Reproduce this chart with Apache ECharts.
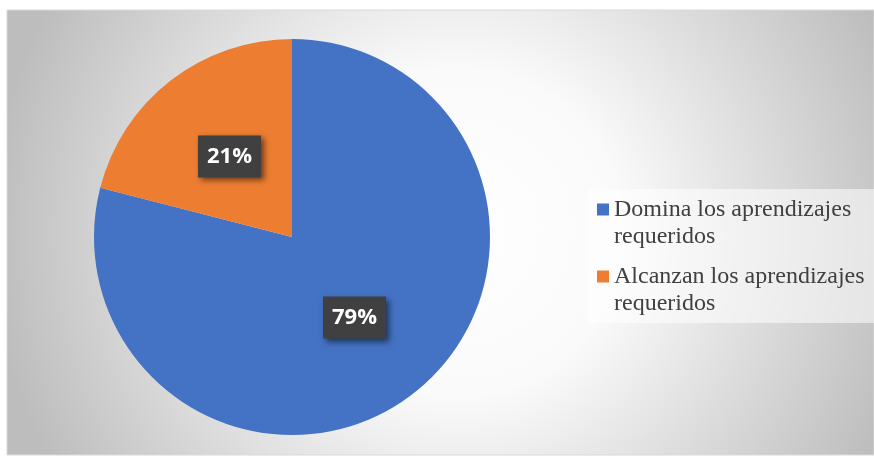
<!DOCTYPE html>
<html><head><meta charset="utf-8">
<script src="https://cdn.jsdelivr.net/npm/echarts@6/dist/echarts.min.js"></script>
<style>html,body{margin:0;padding:0;background:#fff;}#c{width:874px;height:457px;}</style>
</head><body><div id="c"></div>
<script>
const categories = ['Domina los aprendizajes requeridos', 'Alcanzan los aprendizajes requeridos'];
const legendLines = ['Domina los aprendizajes\nrequeridos', 'Alcanzan los aprendizajes\nrequeridos'];
const values = [79, 21];
const colors = ['#4472C4', '#ED7D31'];

const chart = echarts.init(document.getElementById('c'));
chart.setOption({
  animation: false,
  graphic: [
    { type: 'rect', z: -10, shape: { x: 7, y: 10, width: 867, height: 445 },
      style: { fill: new echarts.graphic.RadialGradient(0.52, 0.5, 1.05, [
        { offset: 0, color: '#ffffff' },
        { offset: 0.35, color: '#fafafa' },
        { offset: 1, color: '#bdbdbd' }
      ]), stroke: '#d9d9d9', lineWidth: 1 } },
    { type: 'rect', z: -5, shape: { x: 588, y: 189, width: 290, height: 134 },
      style: { fill: 'rgba(255,255,255,0.55)' } }
  ],
  legend: {
    orient: 'vertical',
    left: 597,
    top: 169,
    padding: 0,
    itemWidth: 12,
    itemHeight: 12,
    itemGap: -14,
    icon: 'rect',
    data: categories,
    formatter: function (name) { return '\n' + legendLines[categories.indexOf(name)]; },
    textStyle: {
      fontFamily: '"Liberation Serif", "Times New Roman", serif',
      fontSize: 24,
      lineHeight: 27,
      color: '#404040'
    }
  },
  series: [{
    type: 'pie',
    center: [292, 237],
    radius: [0, 198],
    startAngle: 90,
    clockwise: true,
    data: categories.map((n, i) => ({ name: n, value: values[i], itemStyle: { color: colors[i] } })),
    label: {
      show: true,
      position: 'inside',
      formatter: '{d}%',
      fontFamily: '"Open Sans", sans-serif',
      fontWeight: 'bold',
      fontSize: 22,
      lineHeight: 26,
      color: '#ffffff',
      backgroundColor: '#404040',
      padding: [8, 9],
      shadowColor: 'rgba(0,0,0,0.55)',
      shadowBlur: 6,
      shadowOffsetX: 3,
      shadowOffsetY: 3
    },
    labelLine: { show: false },
    emphasis: { disabled: true }
  }]
});
</script></body></html>
